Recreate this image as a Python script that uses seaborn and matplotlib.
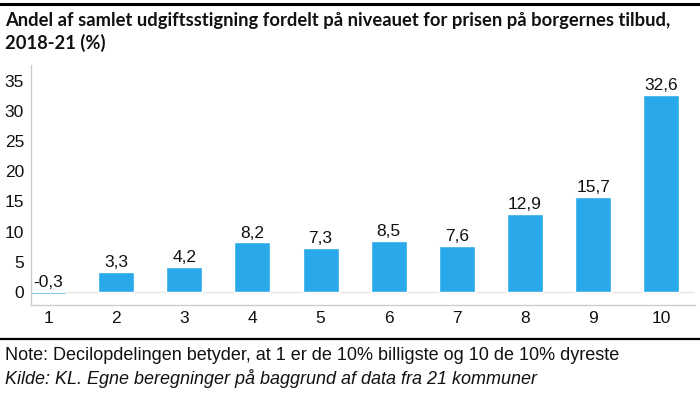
import matplotlib
matplotlib.use("Agg")
import matplotlib.pyplot as plt
import pandas as pd
import seaborn as sns

# data
deciles = ["1", "2", "3", "4", "5", "6", "7", "8", "9", "10"]
shares = [-0.3, 3.3, 4.2, 8.2, 7.3, 8.5, 7.6, 12.9, 15.7, 32.6]
y_ticks = [0, 5, 10, 15, 20, 25, 30, 35]

title = "Andel af samlet udgiftsstigning fordelt på niveauet for prisen på borgernes tilbud,\n2018-21 (%)"
note = "Note: Decilopdelingen betyder, at 1 er de 10% billigste og 10 de 10% dyreste"
source = "Kilde: KL. Egne beregninger på baggrund af data fra 21 kommuner"

bar_color = "#29A8EA"

sns.set_theme(style="white")
plt.rcParams["font.family"] = ["Liberation Sans", "DejaVu Sans"]

df = pd.DataFrame({"decil": deciles, "andel": shares})

fig = plt.figure(figsize=(7, 3.94), dpi=100)
ax = fig.add_axes([0.0443, 0.226, 0.949, 0.609])

sns.barplot(data=df, x="decil", y="andel", order=deciles, color=bar_color,
            saturation=1, width=0.53, ax=ax)

for i, v in enumerate(shares):
    ax.text(i, max(v, 0) + 0.3, f"{v:.1f}".replace(".", ","), ha="center",
            va="bottom", fontsize=12.5, color="#111111")

ax.axhline(0, color="#e6e6e6", lw=1, zorder=0)
ax.set_xlim(-0.25, 9.5)
ax.set_ylim(-2.15, 37.6)
ax.set_yticks(y_ticks)
ax.set_xlabel("")
ax.set_ylabel("")
ax.tick_params(axis="both", length=0, labelsize=12.5, colors="#111111")
ax.tick_params(axis="x", pad=4)
ax.tick_params(axis="y", pad=5)

for side in ["top", "right"]:
    ax.spines[side].set_visible(False)
for side in ["left", "bottom"]:
    ax.spines[side].set_color("#cccccc")
    ax.spines[side].set_linewidth(1)

# header and footer
fig.add_artist(plt.Line2D([0, 1], [1 - 3.5 / 394, 1 - 3.5 / 394], color="black", lw=2.2))
fig.add_artist(plt.Line2D([0, 1], [1 - 339 / 394, 1 - 339 / 394], color="black", lw=1.6))

fig.text(5 / 700, 1 - 12 / 394, title, ha="left", va="top", fontsize=13.2,
         fontweight="bold", family=["Lato", "DejaVu Sans"], color="#111111",
         linespacing=1.3)
fig.text(5 / 700, 1 - 356 / 394, note, ha="left", va="center", fontsize=13,
         color="#111111")
fig.text(5 / 700, 1 - 378 / 394, source, ha="left", va="center", fontsize=13,
         style="italic", color="#111111")

fig.savefig("out.png", dpi=100)
